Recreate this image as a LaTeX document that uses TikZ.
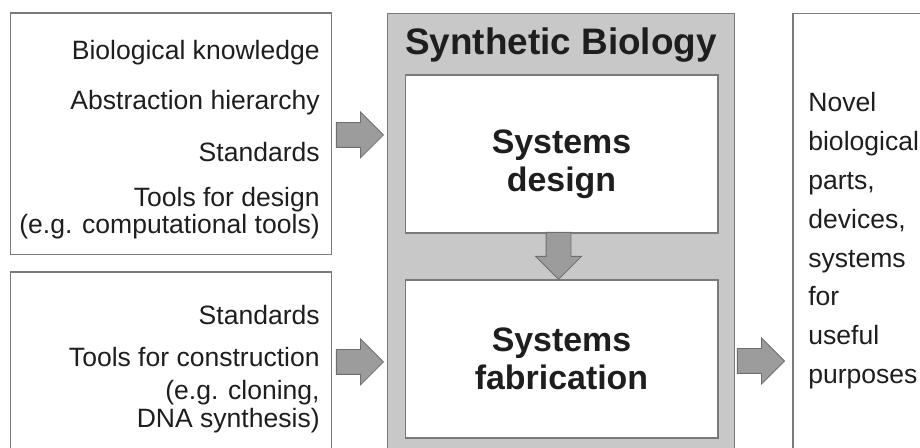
\documentclass[tikz,border=0pt]{standalone}
\usepackage{fontspec}
\setmainfont{Liberation Sans}
\usetikzlibrary{shapes.arrows}

\definecolor{boxline}{HTML}{7A7A7A}
\definecolor{panelgray}{HTML}{C8C8C8}
\definecolor{arrowgray}{HTML}{9C9C9C}
\definecolor{arrowline}{HTML}{6E6E6E}
\definecolor{textdark}{HTML}{1E1E1E}

\tikzstyle{panel} = [draw=boxline,fill=white,line width=0.6pt,inner sep=0pt]
\tikzstyle{body} = [inner sep=0pt,text=textdark,font=\fontsize{15.1}{17}\selectfont]

\begin{document}
\begin{tikzpicture}[x=0.02cm,y=-0.02cm]
\tikzstyle{bigarrow} = [single arrow,draw=arrowline,fill=arrowgray,line width=0.5pt,
  minimum height=0.94cm,single arrow head extend=0.21cm,inner sep=0.24cm,anchor=tip]
\clip (0,0) rectangle (920,448);
% boxes
\node[panel,minimum width=6.44cm,minimum height=4.84cm] (know) at (171,134) {};
\node[panel,minimum width=6.44cm,minimum height=4.0cm] (build) at (171,372) {};
\node[panel,fill=panelgray,minimum width=6.96cm,minimum height=9.2cm] (synbio) at (561,243) {};
\node[panel,minimum width=6.26cm,minimum height=3.16cm] (design) at (561.5,154) {};
\node[panel,minimum width=6.26cm,minimum height=3.16cm] (fab) at (561.5,359) {};
\node[panel,minimum width=3.0cm,minimum height=9.2cm] (product) at (868,243) {};
% titles
\node[inner sep=0pt,anchor=base,text=textdark,font=\fontsize{21}{24}\selectfont\bfseries] (title) at (561,55) {Synthetic Biology};
\node[align=center,text=textdark,font=\fontsize{19.3}{21.5}\selectfont\bfseries] (designtxt) at (561.5,164) {Systems\\design};
\node[align=center,text=textdark,font=\fontsize{19.3}{21.5}\selectfont\bfseries] (fabtxt) at (fab) {Systems\\fabrication};
% inputs
\foreach \y/\t [count=\i] in {60/Biological knowledge, 110/Abstraction hierarchy, 162/Standards,
  207/Tools for design, 234/(e.g. computational tools)}{
  \node[body,anchor=base east] (know\i) at (320,\y) {\t};
}
\foreach \y/\t [count=\i] in {325/Standards, 367/Tools for construction, 400/{(e.g. cloning,}, 428/DNA synthesis)}{
  \node[body,anchor=base east] (build\i) at (320,\y) {\t};
}
% outputs
\foreach \y/\t [count=\i] in {112/Novel, 150.8/biological, 189.6/{parts,}, 228.4/{devices,},
  267.2/systems, 306/for, 344.8/useful, 383.6/purposes}{
  \node[body,anchor=base west] (product\i) at (808,\y) {\t};
}
% flow arrows
\node[bigarrow] (a1) at (384,135) {};
\node[bigarrow] (a2) at (384,362) {};
\node[bigarrow,shape border rotate=270] (a3) at (558.5,280) {};
\node[bigarrow] (a4) at (785,361) {};
\end{tikzpicture}
\end{document}
